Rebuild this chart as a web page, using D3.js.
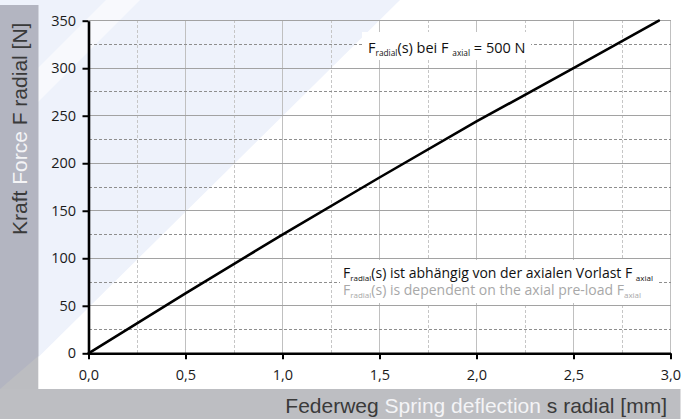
<!DOCTYPE html>
<html>
<head>
<meta charset="utf-8">
<script src="https://cdn.jsdelivr.net/npm/d3@7"></script>
<style>
  html, body { margin: 0; padding: 0; background: #ffffff; }
  svg { display: block; }
</style>
</head>
<body>
<svg id="chart" width="691" height="419"></svg>
<script>
// ---- data ----
const deflection = [0, 0.5, 1.0, 1.5, 2.0, 2.5, 2.94];     // s radial [mm]
const forceRadial = [0, 63, 125, 185, 244, 300, 350];      // F radial [N]
const xTickValues = [0, 0.5, 1.0, 1.5, 2.0, 2.5, 3.0];
const yTickValues = [0, 50, 100, 150, 200, 250, 300, 350];
const xMinorGrid = [0.25, 0.75, 1.25, 1.75, 2.25, 2.75];
const yMinorGrid = [25, 75, 125, 175, 225, 275, 325];
const yTitleParts = ["Kraft ", "Force ", "F radial [N]"];
const xTitleParts = ["Federweg ", "Spring deflection ", "s radial [mm]"];

const svg = d3.select("#chart");
const W = 691, H = 419;

const x = d3.scaleLinear().domain([0, 3]).range([88.5, 670.5]);
const y = d3.scaleLinear().domain([0, 350]).range([353.3, 20.7]);

// ---- background ----
const bg = svg.append("g");
bg.append("rect").attr("width", W).attr("height", H).attr("fill", "#ffffff");
bg.append("polygon").attr("points", "0,0 400,0 0,395").attr("fill", "#eef2fb");
bg.append("polygon").attr("points", "106,0 140,0 0,140 0,106").attr("fill", "#f8f9fd");
// gray strips
bg.append("rect").attr("x", 0).attr("y", 5).attr("width", 38.3).attr("height", 384).attr("fill", "#bcbdc1");
bg.append("polygon").attr("points", "0,5 38.3,5 38.3,356 0,389").attr("fill", "#b3b5c1");
bg.append("rect").attr("x", 0).attr("y", 389).attr("width", 680.5).attr("height", 30).attr("fill", "#bdbec2");

// ---- grid ----
const grid = svg.append("g").attr("shape-rendering", "crispEdges");
const x0 = x(0), x3 = x(3), y0 = y(0), y350 = y(350);
grid.selectAll(".vminor").data(xMinorGrid).join("line")
  .attr("x1", d => x(d)).attr("x2", d => x(d)).attr("y1", y0).attr("y2", y350)
  .attr("stroke", "#c6c6c6").attr("stroke-width", 1).attr("stroke-dasharray", "3,2");
grid.selectAll(".vmajor").data(xTickValues.filter(d => d > 0)).join("line")
  .attr("x1", d => x(d)).attr("x2", d => x(d)).attr("y1", y0).attr("y2", y350)
  .attr("stroke", "#c0c0c0").attr("stroke-width", 1);
grid.selectAll(".hminor").data(yMinorGrid).join("line")
  .attr("x1", x0).attr("x2", x3).attr("y1", d => y(d)).attr("y2", d => y(d))
  .attr("stroke", "#8e8e8e").attr("stroke-width", 1).attr("stroke-dasharray", "3,2");
grid.selectAll(".hmajor").data(yTickValues.filter(d => d > 0)).join("line")
  .attr("x1", x0).attr("x2", x3).attr("y1", d => y(d)).attr("y2", d => y(d))
  .attr("stroke", "#a2a2a2").attr("stroke-width", 1);

// ---- annotation boxes ----
svg.append("rect").attr("x", 362).attr("y", 32).attr("width", 169).attr("height", 28).attr("fill", "#ffffff");
svg.append("rect").attr("x", 340).attr("y", 260).attr("width", 318).attr("height", 43).attr("fill", "#ffffff");

// ---- curve ----
const pts = deflection.map((s, i) => [s, forceRadial[i]]);
svg.append("path").datum(pts)
  .attr("d", d3.line().x(d => x(d[0])).y(d => y(d[1])))
  .attr("fill", "none").attr("stroke", "#000").attr("stroke-width", 2.6).attr("stroke-linecap", "round");

// ---- axes ----
const locale = d3.formatLocale({decimal: ",", thousands: ".", grouping: [3], currency: ["", "€"]});
const fmtX = locale.format(".1f");

const xAxis = svg.append("g").attr("transform", `translate(0,${y0})`)
  .call(d3.axisBottom(x).tickValues(xTickValues).tickFormat(fmtX).tickSize(6).tickSizeOuter(0).tickPadding(10.8));
const yAxis = svg.append("g").attr("transform", `translate(${x0},0)`)
  .call(d3.axisLeft(y).tickValues(yTickValues).tickFormat(d3.format("d")).tickSize(6).tickSizeOuter(0).tickPadding(6.5));

[xAxis, yAxis].forEach(a => {
  a.select(".domain").attr("stroke", "#000").attr("stroke-width", 2.6);
  a.selectAll(".tick line").attr("stroke", "#000").attr("stroke-width", 2);
  a.selectAll(".tick text").attr("fill", "#1a1a1a")
    .attr("font-family", "'Open Sans', 'Noto Sans', sans-serif").attr("font-size", 14.5);
});

// ---- annotation texts ----
const annFont = "'Open Sans', 'Noto Sans', sans-serif";
function annot(xPos, yPos, size, subSize, color, pieces) {
  const t = svg.append("text").attr("x", xPos).attr("y", yPos)
    .attr("font-family", annFont).attr("font-size", size).attr("fill", color);
  let sub = false;
  pieces.forEach(p => {
    const isSub = p.sub === true;
    const ts = t.append("tspan").text(p.t);
    if (isSub) { ts.attr("font-size", subSize).attr("dy", sub ? 0 : 3); sub = true; }
    else { ts.attr("dy", sub ? -3 : 0); sub = false; }
  });
  return t;
}
annot(368, 52.7, 14.5, 8.3, "#111", [
  {t: "F"}, {t: "radial", sub: true}, {t: "(s) bei F "}, {t: "axial", sub: true}, {t: " = 500 N"}
]);
annot(343, 278.3, 14, 8, "#111", [
  {t: "F"}, {t: "radial", sub: true}, {t: "(s) ist abhängig von der axialen Vorlast F "}, {t: "axial", sub: true}
]);
annot(343, 295, 14, 8, "#a8a8a8", [
  {t: "F"}, {t: "radial", sub: true}, {t: "(s) is dependent on the axial pre-load F"}, {t: "axial", sub: true}
]);

// ---- axis titles ----
const titleFont = "'Liberation Sans', Arial, sans-serif";
const titleColors = ["#3a3a3a", "#f4f4f6", "#3a3a3a"];
const yt = svg.append("text").attr("transform", "translate(26.7,235) rotate(-90)")
  .attr("font-family", titleFont).attr("font-size", 21).attr("text-anchor", "start");
yTitleParts.forEach((p, i) => yt.append("tspan").text(p).attr("fill", titleColors[i]));
const xt = svg.append("text").attr("x", 667).attr("y", 413)
  .attr("font-family", titleFont).attr("font-size", 21).attr("text-anchor", "end");
xTitleParts.forEach((p, i) => xt.append("tspan").text(p).attr("fill", titleColors[i]));
</script>
</body>
</html>
